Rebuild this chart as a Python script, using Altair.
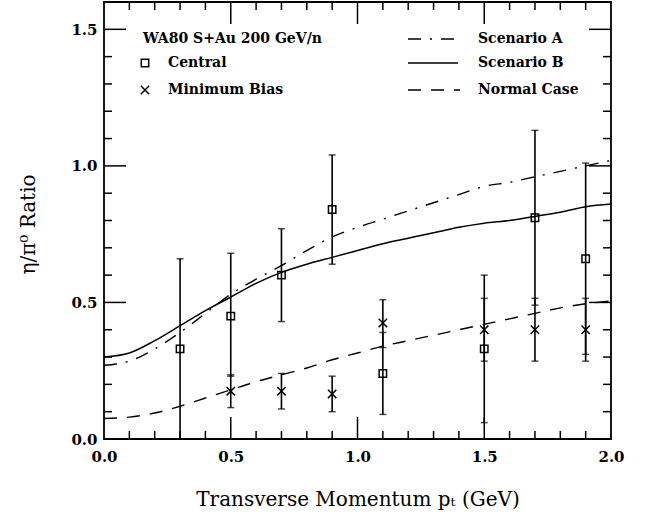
import altair as alt
import pandas as pd

# ---------------- data ----------------
# theory curves
curve_pt = [0.0, 0.1, 0.2, 0.3, 0.4, 0.5, 0.6, 0.7, 0.8, 0.9, 1.0,
            1.1, 1.2, 1.3, 1.4, 1.5, 1.6, 1.7, 1.8, 1.9, 2.0]
scenario_a = [0.27, 0.285, 0.33, 0.39, 0.46, 0.53, 0.585, 0.635, 0.69, 0.74, 0.775,
              0.805, 0.835, 0.865, 0.895, 0.925, 0.94, 0.96, 0.98, 1.00, 1.02]
scenario_b = [0.30, 0.315, 0.36, 0.415, 0.47, 0.52, 0.57, 0.61, 0.64, 0.665, 0.69,
              0.715, 0.735, 0.755, 0.775, 0.79, 0.80, 0.815, 0.83, 0.85, 0.86]
normal_case = [0.075, 0.08, 0.095, 0.12, 0.15, 0.18, 0.21, 0.235, 0.26, 0.29, 0.315,
               0.34, 0.36, 0.38, 0.40, 0.42, 0.44, 0.46, 0.48, 0.495, 0.505]

# Central data
central_pt = [0.3, 0.5, 0.7, 0.9, 1.1, 1.5, 1.7, 1.9]
central_val = [0.33, 0.45, 0.60, 0.84, 0.24, 0.33, 0.81, 0.66]
central_lo = [0.00, 0.23, 0.43, 0.64, 0.09, 0.06, 0.49, 0.31]
central_hi = [0.66, 0.68, 0.77, 1.04, 0.39, 0.60, 1.13, 1.01]

# Minimum bias data
minbias_pt = [0.5, 0.7, 0.9, 1.1, 1.5, 1.7, 1.9]
minbias_val = [0.175, 0.175, 0.165, 0.425, 0.40, 0.40, 0.40]
minbias_lo = [0.115, 0.11, 0.10, 0.335, 0.285, 0.285, 0.285]
minbias_hi = [0.235, 0.24, 0.23, 0.51, 0.515, 0.515, 0.515]

# axis tick values
x_labels = [0.0, 0.5, 1.0, 1.5, 2.0]
y_labels = [0.0, 0.5, 1.0, 1.5]
x_major = [0.5, 1.0, 1.5]
x_minor = [0.1, 0.2, 0.3, 0.4, 0.6, 0.7, 0.8, 0.9, 1.1, 1.2, 1.3, 1.4,
           1.6, 1.7, 1.8, 1.9]
y_major = [0.5, 1.0, 1.5]
y_minor = [0.1, 0.2, 0.3, 0.4, 0.6, 0.7, 0.8, 0.9, 1.1, 1.2, 1.3, 1.4]

x_title = "Transverse Momentum pₜ (GeV)"
y_title = "η/π⁰ Ratio"
legend_title = "WA80 S+Au 200 GeV/n"
legend_central = "Central"
legend_minbias = "Minimum Bias"
legend_a = "Scenario A"
legend_b = "Scenario B"
legend_n = "Normal Case"

# ---------------- layout ----------------
W, H = 507, 437
FONT = "DejaVu Serif"
MAJ, MIN = 22, 8

xs = alt.Scale(domain=[0, 2], nice=False, zero=False)
ys = alt.Scale(domain=[0, 1.6], nice=False, zero=False)

curve_df = pd.DataFrame({"pt": curve_pt, "A": scenario_a, "B": scenario_b, "N": normal_case})
cen_df = pd.DataFrame({"pt": central_pt, "v": central_val, "lo": central_lo, "hi": central_hi})
mb_df = pd.DataFrame({"pt": minbias_pt, "v": minbias_val, "lo": minbias_lo, "hi": minbias_hi})

x_axis = alt.Axis(values=x_labels, format=".1f", ticks=False, grid=False, domain=False,
                  labelFont=FONT, labelFontSize=15, labelFontWeight="bold", labelColor="black",
                  labelPadding=10, labelFlush=False, labelOverlap=False,
                  titleFont=FONT, titleFontSize=20, titleFontWeight="normal",
                  titleColor="black", titleY=66, titleBaseline="alphabetic")
y_axis = alt.Axis(values=y_labels, format=".1f", ticks=False, grid=False, domain=False,
                  labelFont=FONT, labelFontSize=15, labelFontWeight="bold", labelColor="black",
                  labelPadding=7, labelFlush=False, labelOverlap=False, labelBaseline="middle",
                  titleFont=FONT, titleFontSize=20, titleFontWeight="normal",
                  titleColor="black", titleAngle=270, titleX=-70, titleY=222,
                  titleBaseline="alphabetic", titleAlign="center")


def X(field):
    return alt.X(field, scale=xs, axis=x_axis, title=x_title)


def Y(field):
    return alt.Y(field, scale=ys, axis=y_axis, title=y_title)


base = alt.Chart(curve_df)
line_b = base.mark_line(color="black", strokeWidth=1.5, interpolate="monotone").encode(
    x=X("pt:Q"), y=Y("B:Q"))
line_a = base.mark_line(color="black", strokeWidth=1.4, strokeDash=[13, 9, 2, 9],
                        interpolate="monotone").encode(x=X("pt:Q"), y=Y("A:Q"))
line_n = base.mark_line(color="black", strokeWidth=1.4, strokeDash=[13, 10],
                        interpolate="monotone").encode(x=X("pt:Q"), y=Y("N:Q"))

CROSS = "M-1,-1L1,1M-1,1L1,-1"


def errbars(df, sw):
    c = alt.Chart(df)
    bar = c.mark_rule(color="black", strokeWidth=sw).encode(
        x=X("pt:Q"), y=Y("lo:Q"), y2="hi:Q")
    cap_lo = c.mark_tick(color="black", orient="horizontal", size=7, thickness=1.5).encode(
        x=X("pt:Q"), y=Y("lo:Q"))
    cap_hi = c.mark_tick(color="black", orient="horizontal", size=7, thickness=1.5).encode(
        x=X("pt:Q"), y=Y("hi:Q"))
    return [bar, cap_lo, cap_hi]


cen_pts = alt.Chart(cen_df).mark_point(shape="square", filled=False, color="black",
                                       size=55, strokeWidth=1.5, opacity=1).encode(
    x=X("pt:Q"), y=Y("v:Q"))
mb_pts = alt.Chart(mb_df).mark_point(shape=CROSS, filled=False, color="black",
                                     size=70, strokeWidth=1.5, opacity=1).encode(
    x=X("pt:Q"), y=Y("v:Q"))


# inward ticks on all four sides
def xticks(vals, length):
    d = pd.DataFrame({"t": vals})
    bot = alt.Chart(d).mark_rule(color="black", strokeWidth=1.5).encode(
        x=X("t:Q"), y=alt.value(H), y2=alt.value(H - length))
    top = alt.Chart(d).mark_rule(color="black", strokeWidth=1.5).encode(
        x=X("t:Q"), y=alt.value(0), y2=alt.value(length))
    return [bot, top]


def yticks(vals, length):
    d = pd.DataFrame({"t": vals})
    left = alt.Chart(d).mark_rule(color="black", strokeWidth=1.5).encode(
        y=Y("t:Q"), x=alt.value(0), x2=alt.value(length))
    right = alt.Chart(d).mark_rule(color="black", strokeWidth=1.5).encode(
        y=Y("t:Q"), x=alt.value(W), x2=alt.value(W - length))
    return [left, right]


ticks = xticks(x_major, MAJ) + xticks(x_minor, MIN) + yticks(y_major, MAJ) + yticks(y_minor, MIN)

# ---------------- legend (drawn inside the frame) ----------------
leg_df = pd.DataFrame({"k": [0]})
LEG_FONT = dict(font=FONT, fontSize=14, fontWeight="bold", color="black",
                align="left", baseline="middle")


def txt(s, x, y):
    return alt.Chart(leg_df).mark_text(text=s, **LEG_FONT).encode(
        x=alt.value(x), y=alt.value(y))


legend = [
    txt(legend_title, 39, 37),
    txt(legend_central, 64, 61),
    txt(legend_minbias, 64, 88),
    txt(legend_a, 374, 37),
    txt(legend_b, 374, 61),
    txt(legend_n, 374, 88),
    alt.Chart(leg_df).mark_point(shape="square", filled=False, color="black", size=55,
                                 strokeWidth=1.5, opacity=1).encode(
        x=alt.value(41), y=alt.value(61)),
    alt.Chart(leg_df).mark_point(shape=CROSS, filled=False, color="black", size=70,
                                 strokeWidth=1.5, opacity=1).encode(
        x=alt.value(41), y=alt.value(88)),
    alt.Chart(leg_df).mark_rule(color="black", strokeWidth=1.4, strokeDash=[13, 9, 2, 9]).encode(
        x=alt.value(304), x2=alt.value(359), y=alt.value(37)),
    alt.Chart(leg_df).mark_rule(color="black", strokeWidth=1.5).encode(
        x=alt.value(304), x2=alt.value(354), y=alt.value(61)),
    alt.Chart(leg_df).mark_rule(color="black", strokeWidth=1.4, strokeDash=[13, 10]).encode(
        x=alt.value(304), x2=alt.value(356), y=alt.value(88)),
]

layers = [line_b, line_a, line_n] + errbars(cen_df, 1.6) + errbars(mb_df, 1.6) + \
    [cen_pts, mb_pts] + ticks + legend

chart = alt.layer(*layers).properties(
    width=W, height=H,
    autosize=alt.AutoSizeParams(type="none"),
    padding={"left": 104, "top": 2, "right": 36, "bottom": 81},
    background="white",
).configure_view(stroke="black", strokeWidth=1.8)

chart.save("out.html", embed_options={"renderer": "svg", "actions": False})
